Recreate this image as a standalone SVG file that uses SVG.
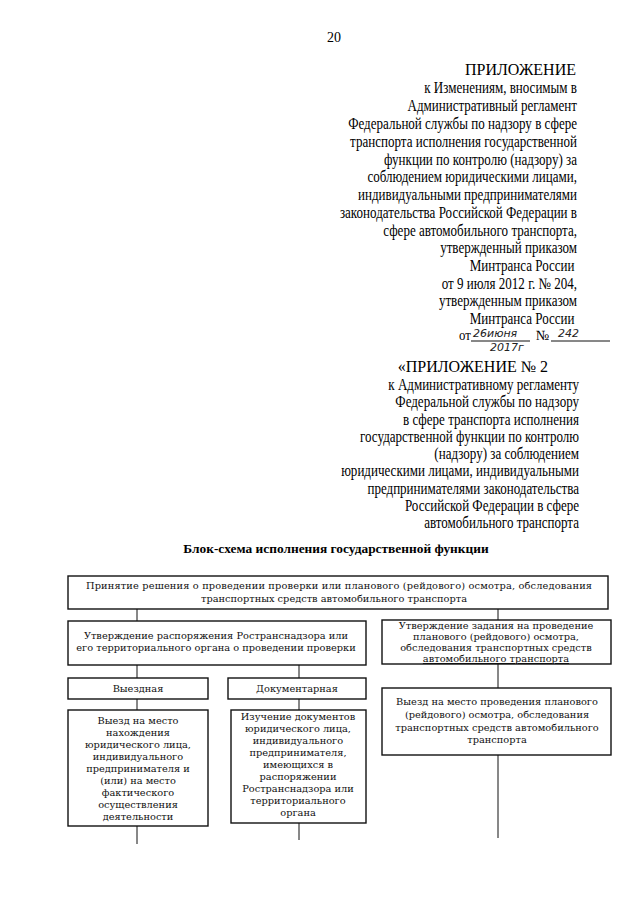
<svg xmlns="http://www.w3.org/2000/svg" width="640" height="905" viewBox="0 0 640 905">
<style>
.hd{font-family:"Liberation Serif","Times New Roman",serif;font-size:16px;fill:#000;text-anchor:end}
.bx{fill:#fff;stroke:#111;stroke-width:1.4}
.t{font-family:"DejaVu Serif","Liberation Serif",serif;font-size:9.8px;fill:#111;text-anchor:middle}
.ln{stroke:#111;stroke-width:1;fill:none}
.hw{font-family:"DejaVu Sans",sans-serif;font-style:italic;font-size:11px;fill:#222}
</style>
<rect width="640" height="905" fill="#fff"/>
<text x="334" y="42" font-family="Liberation Serif, serif" font-size="14" fill="#000" text-anchor="middle">20</text>
<g id="header1">
<text class="hd" x="576" y="75" font-size="15.5">ПРИЛОЖЕНИЕ</text>
<g transform="translate(577,0) scale(0.815,1)">
<text class="hd" x="0" y="93">к Изменениям, вносимым в</text>
<text class="hd" x="0" y="111">Административный регламент</text>
<text class="hd" x="0" y="129">Федеральной службы по надзору в сфере</text>
<text class="hd" x="0" y="147">транспорта исполнения государственной</text>
<text class="hd" x="0" y="165">функции по контролю (надзору) за</text>
<text class="hd" x="0" y="182">соблюдением юридическими лицами,</text>
<text class="hd" x="0" y="200">индивидуальными предпринимателями</text>
<text class="hd" x="0" y="218">законодательства Российской Федерации в</text>
<text class="hd" x="0" y="236">сфере автомобильного транспорта,</text>
<text class="hd" x="0" y="253">утвержденный приказом</text>
<text class="hd" x="-3" y="271">Минтранса России</text>
<text class="hd" x="0" y="289">от 9 июля 2012 г. № 204,</text>
<text class="hd" x="0" y="306">утвержденным приказом</text>
<text class="hd" x="-3" y="324">Минтранса России</text>
</g>
<text x="459" y="340" font-family="Liberation Serif, serif" font-size="15" fill="#000" transform="translate(459,0) scale(0.85,1) translate(-459,0)">от</text>
<text class="hw" x="473" y="337">26июня</text>
<line x1="471" y1="341" x2="530" y2="341" class="ln"/>
<text x="536" y="340" font-family="Liberation Serif, serif" font-size="14" fill="#000">№</text>
<text class="hw" x="558" y="337">242</text>
<line x1="551" y1="341" x2="610" y2="341" class="ln"/>
<text class="hw" x="490" y="351" font-size="8.5">2017г</text>
</g>
<g id="header2">
<text class="hd" x="548" y="372" font-size="15.5">«ПРИЛОЖЕНИЕ № 2</text>
<g transform="translate(579,0) scale(0.815,1)">
<text class="hd" x="0" y="390">к Административному регламенту</text>
<text class="hd" x="0" y="407">Федеральной службы по надзору</text>
<text class="hd" x="0" y="425">в сфере транспорта исполнения</text>
<text class="hd" x="0" y="442">государственной функции по контролю</text>
<text class="hd" x="0" y="459">(надзору) за соблюдением</text>
<text class="hd" x="0" y="476">юридическими лицами, индивидуальными</text>
<text class="hd" x="0" y="494">предпринимателями законодательства</text>
<text class="hd" x="0" y="511">Российской Федерации в сфере</text>
<text class="hd" x="0" y="528">автомобильного транспорта</text>
</g>
</g>
<text id="title" x="336" y="553" font-family="Liberation Serif, serif" font-size="13.4" font-weight="bold" fill="#000" text-anchor="middle">Блок-схема исполнения государственной функции</text>
<g id="connectors">
<line class="ln" x1="137" y1="609" x2="137" y2="621"/>
<line class="ln" x1="498" y1="609" x2="498" y2="620"/>
<line class="ln" x1="137" y1="665" x2="137" y2="678"/>
<line class="ln" x1="299" y1="665" x2="299" y2="678"/>
<line class="ln" x1="137" y1="699" x2="137" y2="710"/>
<line class="ln" x1="299" y1="699" x2="299" y2="710"/>
<line class="ln" x1="498" y1="664" x2="498" y2="688"/>
<line class="ln" x1="498" y1="755" x2="498" y2="838"/>
<line class="ln" x1="137" y1="826" x2="137" y2="844"/>
<line class="ln" x1="299" y1="823" x2="299" y2="840"/>
</g>
<g id="n1">
<rect class="bx" x="68" y="576" width="540" height="33"/>
<text class="t" x="339" y="589" textLength="506">Принятие решения о проведении проверки или планового (рейдового) осмотра, обследования</text>
<text class="t" x="334" y="602">транспортных  средств автомобильного транспорта</text>
</g>
<g id="n2">
<rect class="bx" x="68" y="621" width="298" height="44"/>
<text class="t" x="216" y="639">Утверждение распоряжения Ространснадзора или</text>
<text class="t" x="216" y="651">его территориального органа о проведении проверки</text>
</g>
<g id="n3">
<rect class="bx" x="382" y="620" width="229" height="44"/>
<text class="t" x="496" y="629">Утверждение задания на  проведение</text>
<text class="t" x="496" y="640">планового (рейдового) осмотра,</text>
<text class="t" x="496" y="651">обследования транспортных  средств</text>
<text class="t" x="496" y="662" text-decoration="underline">автомобильного транспорта</text>
</g>
<g id="n4">
<rect class="bx" x="68" y="678" width="140" height="21"/>
<text class="t" x="138" y="692">Выездная</text>
</g>
<g id="n5">
<rect class="bx" x="228" y="678" width="138" height="21"/>
<text class="t" x="297" y="692">Документарная</text>
</g>
<g id="n6">
<rect class="bx" x="68" y="710" width="140" height="116"/>
<text class="t" x="138" y="724">Выезд на место</text>
<text class="t" x="138" y="736">нахождения</text>
<text class="t" x="138" y="748">юридического лица,</text>
<text class="t" x="138" y="760">индивидуального</text>
<text class="t" x="138" y="772">предпринимателя и</text>
<text class="t" x="138" y="784">(или) на место</text>
<text class="t" x="138" y="796">фактического</text>
<text class="t" x="138" y="808">осуществления</text>
<text class="t" x="138" y="820">деятельности</text>
</g>
<g id="n7">
<rect class="bx" x="231" y="710" width="135" height="113"/>
<text class="t" x="298" y="720">Изучение документов</text>
<text class="t" x="298" y="732">юридического лица,</text>
<text class="t" x="298" y="744">индивидуального</text>
<text class="t" x="298" y="756">предпринимателя,</text>
<text class="t" x="298" y="768">имеющихся в</text>
<text class="t" x="298" y="780">распоряжении</text>
<text class="t" x="298" y="792">Ространснадзора или</text>
<text class="t" x="298" y="804">территориального</text>
<text class="t" x="298" y="816">органа</text>
</g>
<g id="n8">
<rect class="bx" x="382" y="688" width="229" height="67"/>
<text class="t" x="497" y="705">Выезд на место проведения планового</text>
<text class="t" x="497" y="718">(рейдового) осмотра, обследования</text>
<text class="t" x="497" y="731">транспортных  средств автомобильного</text>
<text class="t" x="497" y="743">транспорта</text>
</g>
</svg>
